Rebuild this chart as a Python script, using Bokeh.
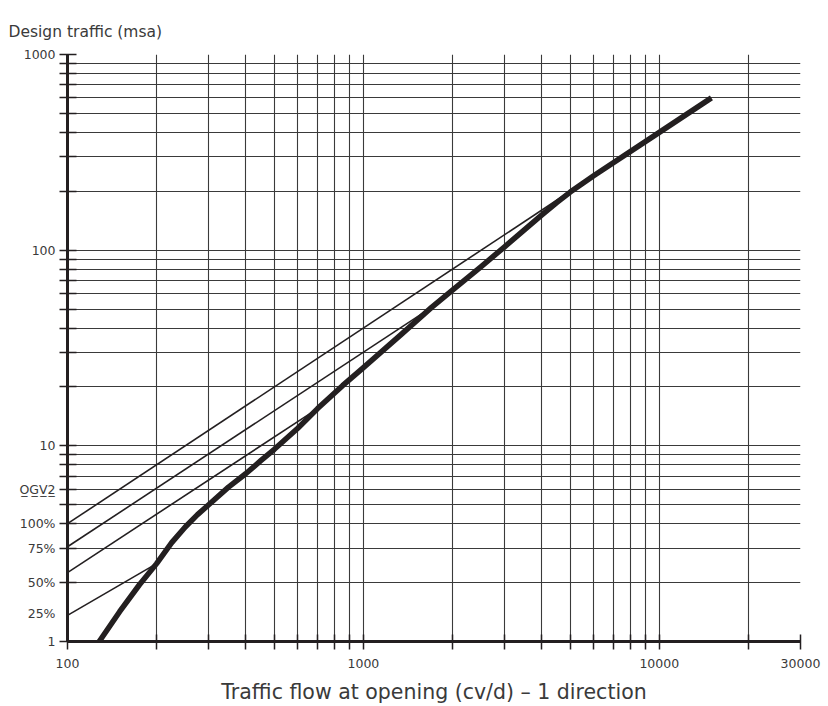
from bokeh.plotting import figure
from bokeh.models import FixedTicker
from bokeh.embed import file_html
from bokeh.resources import INLINE

# ---- data ----
# thick design curve
curve_x = [128, 150, 175, 200, 225, 250, 275, 300, 350, 400, 450, 500, 600, 700, 850, 1000, 1334, 1700,
           2000, 2500, 3000, 4000, 4500, 5000, 6000, 10000, 15000]
curve_y = [1.0, 1.42, 1.95, 2.5, 3.2, 3.85, 4.45, 5.0, 6.15, 7.2, 8.4, 9.6, 12.3, 15.5, 20.3, 25.1, 36.8, 51,
           62.5, 82.5, 104, 151, 175, 198, 240, 400, 600]

# thin OGV2 percentage lines (start at 100 cv/d, end where they join the curve)
line100_x = [100, 5000]
line100_y = [4.0, 200]
line75_x = [100, 1700]
line75_y = [3.05, 51]
line50_x = [100, 700]
line50_y = [2.25, 15.5]
line25_x = [100, 200]
line25_y = [1.36, 2.5]

# axis ticks / labels
x_grid = [100, 200, 300, 400, 500, 600, 700, 800, 900, 1000, 2000, 3000, 4000, 5000,
          6000, 7000, 8000, 9000, 10000, 20000, 30000]
x_labels = {100: "100", 1000: "1000", 10000: "10000", 30000: "30000"}
y_grid = [1, 2, 3, 4, 5, 6, 7, 8, 9, 10, 20, 30, 40, 50, 60, 70, 80, 90, 100,
          200, 300, 400, 500, 600, 700, 800, 900, 1000]
y_labels = {1: "1", 1.386: "25%", 2: "50%", 3: "75%", 4: "100%", 6: "O\u0332G\u0332V\u03322\u0332",
            10: "10", 100: "100", 1000: "1000"}

FONT = "DejaVu Sans"
INK = "#231f20"
TXT = "#3a3a3a"

p = figure(width=828, height=706, x_axis_type="log", y_axis_type="log",
           x_range=(100, 30000), y_range=(1, 1000),
           output_backend="svg", toolbar_location=None,
           min_border_left=67, min_border_right=28, min_border_top=54, min_border_bottom=63,
           title="Design traffic (msa)")

p.title.text_font = FONT
p.title.text_font_size = "15.5px"
p.title.text_font_style = "normal"
p.title.text_color = TXT
p.title.align = "left"
p.title.offset = -59
p.title.standoff = 28

p.outline_line_color = None
p.background_fill_color = "white"
p.border_fill_color = "white"

# grids
p.xgrid.ticker = FixedTicker(ticks=x_grid)
p.ygrid.ticker = FixedTicker(ticks=y_grid)
for g in (p.xgrid, p.ygrid):
    g.grid_line_color = "#3a3a3a"
    g.grid_line_width = 1.1
    g.grid_line_alpha = 1.0

# x axis
xa = p.xaxis[0]
xa.ticker = FixedTicker(ticks=list(x_labels.keys()), minor_ticks=x_grid)
xa.major_label_overrides = {k: v for k, v in x_labels.items()}
xa.major_tick_in = 0
xa.major_tick_out = 0
xa.minor_tick_in = 7
xa.minor_tick_out = 8
xa.minor_tick_line_color = INK
xa.minor_tick_line_width = 1.5
xa.axis_line_width = 3
xa.axis_line_color = INK
xa.major_label_standoff = 9
xa.major_label_text_font = FONT
xa.major_label_text_font_size = "12.5px"
xa.major_label_text_color = TXT
xa.axis_label = "Traffic flow at opening (cv/d) \u2013 1 direction"
xa.axis_label_text_font = FONT
xa.axis_label_text_font_size = "20.5px"
xa.axis_label_text_font_style = "normal"
xa.axis_label_text_color = TXT
xa.axis_label_standoff = 9

# y axis
ya = p.yaxis[0]
ya.ticker = FixedTicker(ticks=list(y_labels.keys()), minor_ticks=y_grid)
ya.major_label_overrides = {k: v for k, v in y_labels.items()}
ya.major_tick_in = 0
ya.major_tick_out = 0
ya.minor_tick_in = 9
ya.minor_tick_out = 8
ya.minor_tick_line_color = INK
ya.minor_tick_line_width = 1.5
ya.axis_line_width = 3
ya.axis_line_color = INK
ya.major_label_standoff = 4
ya.major_label_text_font = FONT
ya.major_label_text_font_size = "12.5px"
ya.major_label_text_color = TXT

# thin lines
for xs, ys in ((line100_x, line100_y), (line75_x, line75_y), (line50_x, line50_y), (line25_x, line25_y)):
    p.line(xs, ys, line_color=INK, line_width=1.6)

# thick curve
p.line(curve_x, curve_y, line_color=INK, line_width=5.5, line_join="round")

open("out.html", "w").write(file_html(p, INLINE))
